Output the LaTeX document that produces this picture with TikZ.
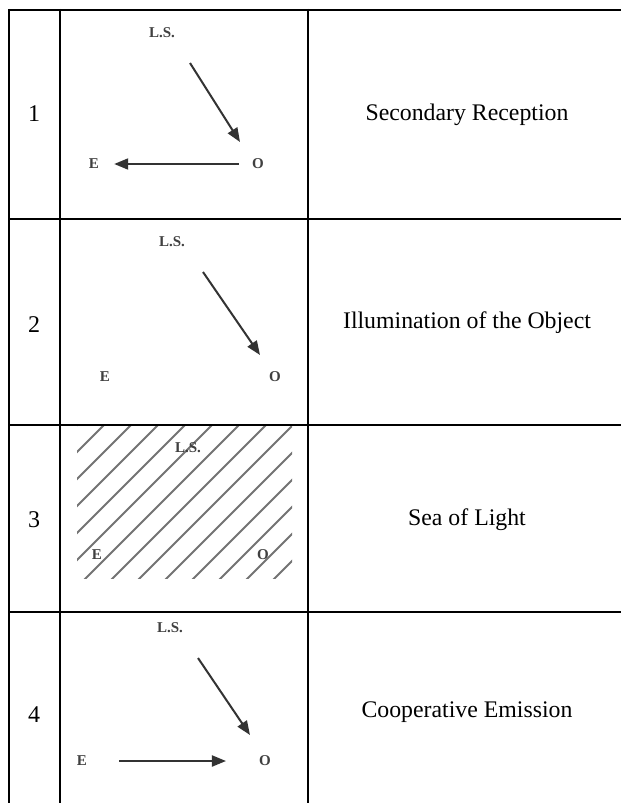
\documentclass[tikz,border=0pt]{standalone}
\usepackage{fontspec}
\setmainfont{Liberation Serif}
\usetikzlibrary{arrows.meta}
\begin{document}
\begin{tikzpicture}[x=1pt,y=-1pt,
  rule/.style={line width=2.4pt,black},
  num/.style={font=\fontsize{24}{28}\selectfont,inner sep=0pt},
  desc/.style={font=\fontsize{23.8}{28}\selectfont,inner sep=0pt},
  lbl/.style={font=\fontsize{15}{17}\selectfont\bfseries,text=black!75,inner sep=1pt},
  ray/.style={line width=2pt,black!80,-{Triangle[length=14pt,width=11pt]}},
  hatch/.style={line width=2pt,black!55}]
\useasboundingbox (0,0) rectangle (621,803);
\fill[white] (0,0) rectangle (621,803);
% table rules
\draw[rule] (9,10) -- (621,10);
\draw[rule] (9,219) -- (621,219);
\draw[rule] (9,425) -- (621,425);
\draw[rule] (9,612) -- (621,612);
\draw[rule] (9,8.8) -- (9,803);
\draw[rule] (60,8.8) -- (60,803);
\draw[rule] (308,8.8) -- (308,803);
% white image backgrounds partly covering rules
\fill[white] (77,10.8) rectangle (270,200);
\fill[white] (77,612.8) rectangle (282,800);
% numbers
\node[num] (n1) at (34,114) {1};
\node[num] (n2) at (34,325) {2};
\node[num] (n3) at (34,520) {3};
\node[num] (n4) at (34,715) {4};
% descriptions
\node[desc] (d1) at (467,115) {Secondary Reception};
\node[desc] (d2) at (467,323) {Illumination of the Object};
\node[desc] (d3) at (467,520) {Sea of Light};
\node[desc] (d4) at (467,712) {Cooperative Emission};
% row 1
\node[lbl] (ls1) at (162,33) {L.S.};
\node[lbl] (e1) at (94,164) {E};
\node[lbl] (o1) at (258,164) {O};
\coordinate (s1) at (190,63);
\coordinate (t1) at (240,142);
\draw[ray] (s1) -- (t1);
\draw[ray,shorten <=12pt,shorten >=14pt] (o1.west) -- (e1.east);
% row 2
\node[lbl] (ls2) at (172,242) {L.S.};
\node[lbl] (e2) at (105,377) {E};
\node[lbl] (o2) at (275,377) {O};
\coordinate (s2) at (203,272);
\coordinate (t2) at (260,355);
\draw[ray] (s2) -- (t2);
% row 3 hatched
\begin{scope}
\clip (77,426) rectangle (292,578);
\foreach \c in {475,502,...,880} {
  \draw[hatch] (\c-700,700) -- (\c-300,300);
}
\end{scope}
\node[lbl] (ls3) at (188,448) {L.S.};
\node[lbl] (e3) at (97,555) {E};
\node[lbl] (o3) at (263,555) {O};
% row 4
\node[lbl] (ls4) at (170,628) {L.S.};
\node[lbl] (e4) at (82,761) {E};
\node[lbl] (o4) at (265,761) {O};
\coordinate (s4) at (198,658);
\coordinate (t4) at (250,735);
\draw[ray] (s4) -- (t4);
\draw[ray,shorten <=31pt,shorten >=32pt] (e4.east) -- (o4.west);
\end{tikzpicture}
\end{document}
